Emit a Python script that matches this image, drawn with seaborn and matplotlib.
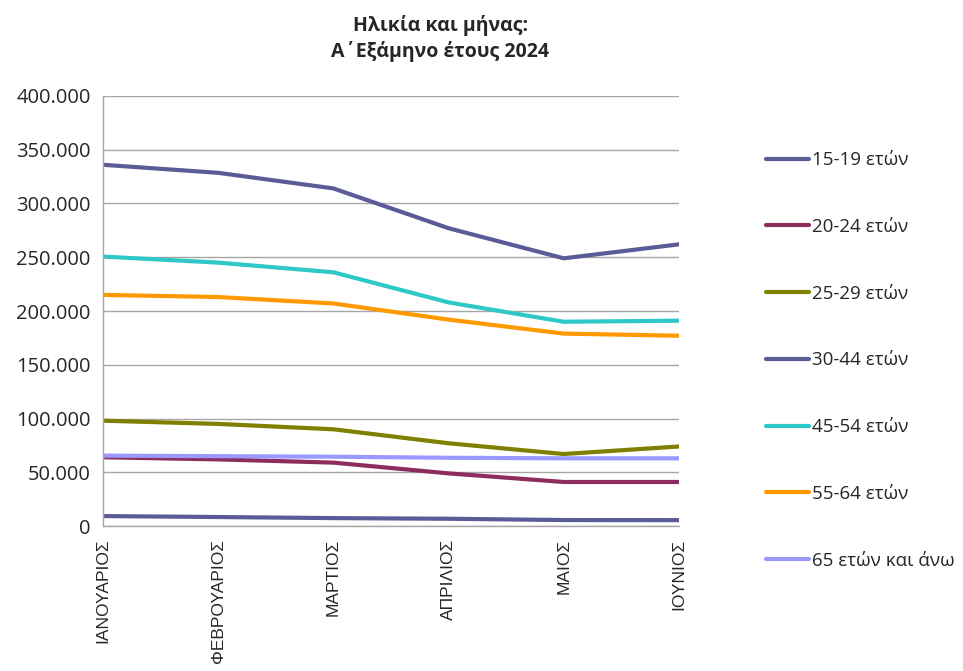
import pandas as pd
import numpy as np
import seaborn as sns
import matplotlib.pyplot as plt
from matplotlib.ticker import FuncFormatter

# data
months = ['ΙΑΝΟΥΑΡΙΟΣ', 'ΦΕΒΡΟΥΑΡΙΟΣ', 'ΜΑΡΤΙΟΣ', 'ΑΠΡΙΛΙΟΣ', 'ΜΑΙΟΣ', 'ΙΟΥΝΙΟΣ']
groups = ['15-19 ετών', '20-24 ετών', '25-29 ετών', '30-44 ετών',
          '45-54 ετών', '55-64 ετών', '65 ετών και άνω']

age_15_19 = [9300, 8400, 7400, 6800, 5600, 5500]
age_20_24 = [64000, 62000, 59000, 49000, 41000, 41000]
age_25_29 = [98000, 95000, 90000, 77000, 67000, 74000]
age_30_44 = [336000, 328500, 314000, 277000, 249000, 262000]
age_45_54 = [250600, 245000, 236000, 208000, 190000, 191000]
age_55_64 = [215000, 213000, 207000, 192000, 179000, 177000]
age_65_up = [65500, 65000, 64500, 63500, 63000, 63000]

colors = ['#5B5B98', '#8C2D5E', '#7F7F00', '#5B5B98', '#2EC8C8', '#FF9900', '#9999FF']

series = [age_15_19, age_20_24, age_25_29, age_30_44, age_45_54, age_55_64, age_65_up]
df = pd.DataFrame({
    'month': months * len(groups),
    'group': np.repeat(groups, len(months)),
    'value': np.concatenate(series),
})

sns.set_style('white')
plt.rcParams['font.family'] = ['Liberation Sans', 'DejaVu Sans']

fig = plt.figure(figsize=(9.63, 6.71), dpi=100)
ax = fig.add_axes([0.107, 0.216, 0.598, 0.641])

sns.lineplot(data=df, x='month', y='value', hue='group', hue_order=groups,
             palette=colors, linewidth=3, ax=ax, sort=False, legend=True)

ax.set_xlim(0, 5)
ax.set_ylim(0, 400000)
ax.set_yticks(np.arange(0, 400001, 50000))
ax.yaxis.set_major_formatter(FuncFormatter(lambda v, p: f'{int(v):,}'.replace(',', '.')))
ax.grid(axis='y', color='#A6A6A6', linewidth=1)
ax.set_axisbelow(True)
for s in ['top', 'right']:
    ax.spines[s].set_visible(False)
for s in ['left', 'bottom']:
    ax.spines[s].set_color('#A6A6A6')
    ax.spines[s].set_linewidth(1)
ax.tick_params(axis='both', which='major', direction='out', length=5, color='#A6A6A6', width=1)
ax.tick_params(axis='y', labelsize=14.5, pad=4)
ax.tick_params(axis='x', labelsize=12.5, pad=4)
for t in ax.get_yticklabels():
    t.set_family(['Open Sans', 'DejaVu Sans'])
plt.setp(ax.get_xticklabels(), rotation=90, va='top', ha='center')
ax.set_xlabel('')
ax.set_ylabel('')

handles, labels = ax.get_legend_handles_labels()
ax.get_legend().remove()
fig.legend(handles, labels, loc='upper left', bbox_to_anchor=(0.778, 0.8),
           frameon=False, labelspacing=2.6, handlelength=2.3, handletextpad=0.15,
           prop={'family': ['Open Sans', 'DejaVu Sans'], 'size': 13.5})

fig.text(0.457, 0.978, 'Ηλικία και μήνας:\nΑ΄Εξάμηνο έτους 2024', ha='center', va='top',
         fontsize=14, fontweight='bold', family=['Open Sans', 'DejaVu Sans'], linespacing=1.3)

fig.savefig('out.png', dpi=100)
